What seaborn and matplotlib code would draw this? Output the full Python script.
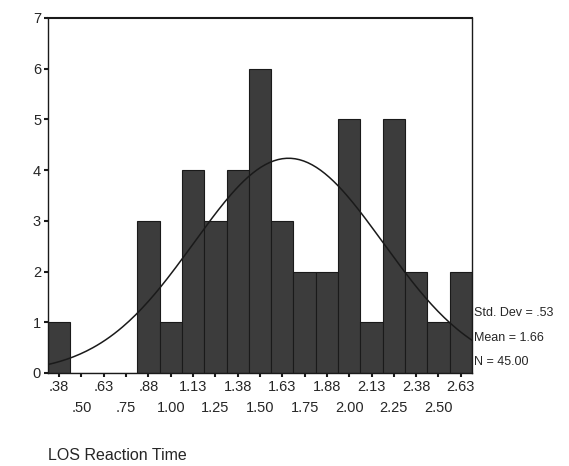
import numpy as np
import pandas as pd
import matplotlib
matplotlib.use('Agg')
import matplotlib.pyplot as plt
import seaborn as sns

# bin centres and counts
bin_centers = [0.375, 0.500, 0.625, 0.750, 0.875, 1.000, 1.125, 1.250, 1.375, 1.500,
               1.625, 1.750, 1.875, 2.000, 2.125, 2.250, 2.375, 2.500, 2.625]
counts = [1, 0, 0, 0, 3, 1, 4, 3, 4, 6, 3, 2, 2, 5, 1, 5, 2, 1, 2]
tick_labels = ['.38', '.50', '.63', '.75', '.88', '1.00', '1.13', '1.25', '1.38', '1.50',
               '1.63', '1.75', '1.88', '2.00', '2.13', '2.25', '2.38', '2.50', '2.63']
std_dev = 0.53
mean = 1.66
n = 45

sns.set_style('white')
plt.rcParams['font.family'] = ['Liberation Sans', 'DejaVu Sans']

df = pd.DataFrame({'LOS Reaction Time': bin_centers, 'count': counts})
width = 0.125
edges = [c - width / 2 for c in bin_centers] + [bin_centers[-1] + width / 2]

fig = plt.figure(figsize=(5.69, 4.66), dpi=100)
ax = fig.add_axes([0.0844, 0.1996, 0.745, 0.7618])

sns.histplot(data=df, x='LOS Reaction Time', weights='count', bins=edges,
             color='#3c3c3c', edgecolor='#1a1a1a', linewidth=0.8, alpha=1, ax=ax)

# fitted normal curve
xs = np.linspace(edges[0], edges[-1], 200)
ys = n * width / (std_dev * np.sqrt(2 * np.pi)) * np.exp(-0.5 * ((xs - mean) / std_dev) ** 2)
sns.lineplot(x=xs, y=ys, color='#1a1a1a', linewidth=1.1, ax=ax)

ax.set_xlim(edges[0], edges[-1])
ax.set_ylim(0, 7)
ax.set_yticks(range(8))
ax.set_yticklabels([str(i) for i in range(8)], fontsize=10.5)

# alternating labels: first row on major ticks, second row on minor ticks
ax.set_xticks(bin_centers[0::2])
ax.set_xticklabels(tick_labels[0::2], fontsize=10.5)
ax.set_xticks(bin_centers[1::2], minor=True)
ax.set_xticklabels(tick_labels[1::2], minor=True, fontsize=10.5)
ax.tick_params(axis='both', which='major', length=3, width=1.5, color='#1a1a1a', pad=2,
               left=True, bottom=True)
ax.tick_params(axis='x', which='minor', length=3, width=1.5, color='#1a1a1a', pad=17,
               bottom=True)
ax.set_xlabel('')
ax.set_ylabel('')
for s in ax.spines.values():
    s.set_color('#1a1a1a')
    s.set_linewidth(1)
ax.spines['top'].set_linewidth(1.5)

ax.text(1.006, 0.168, 'Std. Dev = .53', transform=ax.transAxes, fontsize=9, va='center')
ax.text(1.006, 0.098, 'Mean = 1.66', transform=ax.transAxes, fontsize=9, va='center')
ax.text(1.006, 0.030, 'N = 45.00', transform=ax.transAxes, fontsize=9, va='center')

fig.text(48 / 569, 1 - 455 / 466, 'LOS Reaction Time', fontsize=11.5, va='center', ha='left')

fig.savefig('out.png', dpi=100)
